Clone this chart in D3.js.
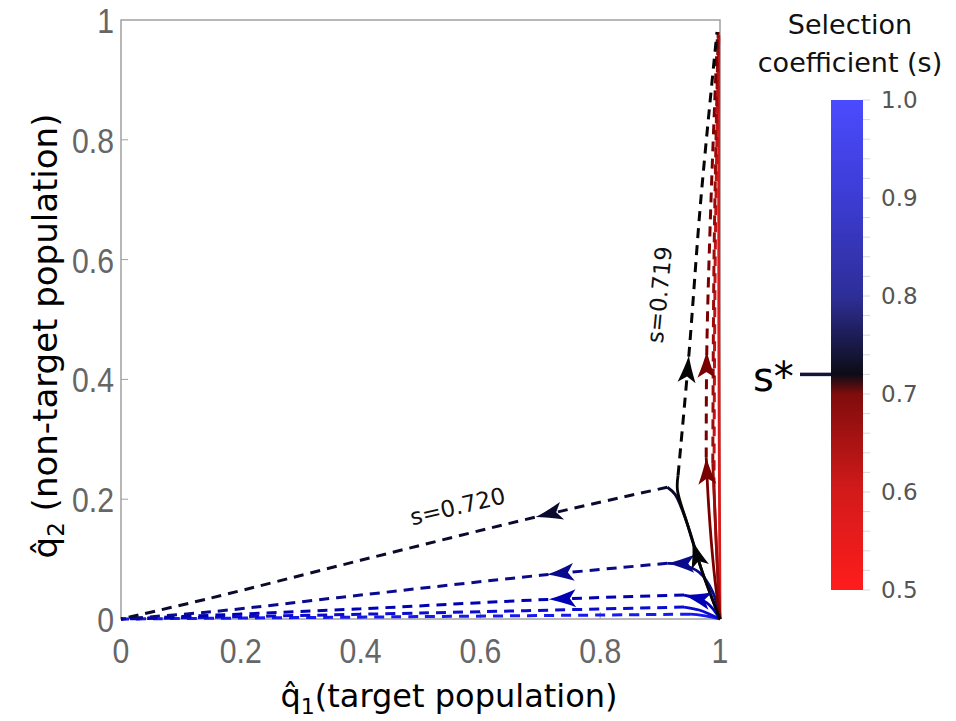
<!DOCTYPE html>
<meta charset="utf-8">
<style>
  body { margin: 0; background: #fff; }
</style>
<div id="container"></div>
<script src="https://cdn.jsdelivr.net/npm/d3@7"></script>
<script>

// selection coefficient of each trajectory
const sValues = [0.50, 0.62, 0.66, 0.70, 0.719, 0.720, 0.77, 0.85, 0.92, 1.00];

// first part of each trajectory (solid), [q1, q2]
const solidParts = [
  [[1, 0], [0.998, 0.5], [0.998, 0.97]],
  [[1, 0], [0.994, 0.12], [0.99, 0.22]],
  [[1, 0], [0.994, 0.12], [0.988, 0.26]],
  [[1, 0], [0.99, 0.08], [0.981, 0.19], [0.977, 0.27]],
  [[1, 0], [0.97, 0.08], [0.945, 0.16], [0.929, 0.215], [0.93, 0.24]],
  [[1, 0], [0.97, 0.08], [0.945, 0.16], [0.925, 0.208], [0.912, 0.22]],
  [[1, 0], [0.988, 0.045], [0.965, 0.078], [0.935, 0.091], [0.912, 0.093]],
  [[1, 0], [0.978, 0.027], [0.94, 0.04]],
  [[1, 0], [0.965, 0.015], [0.94, 0.02]],
  [[1, 0], [0.97, 0.006], [0.95, 0.008]]
];

// later part of each trajectory (dashed)
const dashedParts = [
  [],
  [[0.99, 0.22], [0.992, 0.6], [0.998, 0.98]],
  [[0.988, 0.26], [0.99, 0.6], [0.997, 0.98]],
  [[0.977, 0.27], [0.978, 0.45], [0.985, 0.7], [0.996, 0.98]],
  [[0.93, 0.24], [0.948, 0.44], [0.968, 0.7], [0.995, 0.98]],
  [[0.912, 0.22], [0.7, 0.172], [0.4, 0.098], [0.15, 0.035], [0, 0]],
  [[0.912, 0.093], [0.7, 0.073], [0.4, 0.04], [0.15, 0.012], [0, 0]],
  [[0.94, 0.04], [0.72, 0.033], [0.4, 0.017], [0, 0]],
  [[0.94, 0.02], [0.5, 0.01], [0, 0]],
  [[0.95, 0.008], [0.5, 0.004], [0, 0]]
];

// where the arrow heads sit, fraction of the part length (null = none)
const solidArrow = [null, null, null, 1, 0.55, null, 1, 1, null, null];
const dashedArrow = [null, null, null, 0.25, 0.27, 0.24, 0.22, 0.24, null, null];

const axisTicks = [0, 0.2, 0.4, 0.6, 0.8, 1];
const axisTickLabels = ['0', '0.2', '0.4', '0.6', '0.8', '1'];
const barTicks = [0.5, 0.6, 0.7, 0.8, 0.9, 1.0];
const sStar = 0.72;

const annotations = [
  { text: 's=0.720', q1: 0.565, q2: 0.175, angle: -13.5 },
  { text: 's=0.719', q1: 0.912, q2: 0.54, angle: -84.5 }
];

const width = 956, height = 721;
const sans = "'Liberation Sans', Arial, sans-serif";
const wide = "'DejaVu Sans', Verdana, sans-serif";
const squeeze = 0.84;   // tick numbers are a narrow face

const x = d3.scaleLinear().domain([0, 1]).range([121, 720]);
const y = d3.scaleLinear().domain([0, 1]).range([619, 20]);

// colour of the bar
const barColor = d3.scaleLinear()
  .domain([0.5, 0.6, 0.7, 0.72, 0.8, 0.9, 1.0])
  .range(['#ff1c1c', '#d41a1a', '#800c0c', '#0c0c16', '#2e2e98', '#3c3cd4', '#4b4bff']);

// colour of the trajectories (a bit deeper)
const lineColor = d3.scaleLinear()
  .domain([0.5, 0.62, 0.7, 0.719, 0.72, 0.77, 0.85, 1.0])
  .range(['#dd1a1a', '#c01414', '#7a0000', '#050505', '#0a0a2e', '#0a0a8c', '#0000b4', '#1818f0']);

const svg = d3.create('svg')
  .attr('width', width)
  .attr('height', height)
  .style('font-family', sans);

// frame
svg.append('rect')
  .attr('x', x(0)).attr('y', y(1))
  .attr('width', x(1) - x(0)).attr('height', y(0) - y(1))
  .attr('fill', 'none')
  .attr('stroke', '#a0a0a0')
  .attr('stroke-width', 1.5);

// inner ticks
const tickG = svg.append('g').attr('stroke', '#a0a0a0').attr('stroke-width', 1);
axisTicks.slice(1, -1).forEach(t => {
  tickG.append('line').attr('x1', x(t)).attr('x2', x(t)).attr('y1', y(0)).attr('y2', y(0) - 7);
  tickG.append('line').attr('x1', x(0)).attr('x2', x(0) + 7).attr('y1', y(t)).attr('y2', y(t));
});

// tick labels
svg.append('g').selectAll('text').data(axisTicks).join('text')
  .attr('transform', d => `translate(${x(d)},${y(0) + 44}) scale(${squeeze},1)`)
  .attr('text-anchor', 'middle')
  .attr('fill', '#666')
  .attr('font-size', 36)
  .text((d, i) => axisTickLabels[i]);

svg.append('g').selectAll('text').data(axisTicks).join('text')
  .attr('transform', d => `translate(${x(0) - 7},${y(d) + 13}) scale(${squeeze},1)`)
  .attr('text-anchor', 'end')
  .attr('fill', '#666')
  .attr('font-size', 36)
  .text((d, i) => axisTickLabels[i]);

// axis titles
const xt = svg.append('text')
  .attr('x', 449).attr('y', 707)
  .attr('text-anchor', 'middle')
  .attr('font-family', wide)
  .attr('font-size', 32)
  .attr('fill', '#000');
xt.append('tspan').text('q\u0302');
xt.append('tspan').attr('font-size', 22).attr('dy', 7).text('1');
xt.append('tspan').attr('dy', -7).text('(target population)');

const yt = svg.append('text')
  .attr('transform', 'translate(57,336) rotate(-90)')
  .attr('text-anchor', 'middle')
  .attr('font-family', wide)
  .attr('font-size', 34)
  .attr('fill', '#000');
yt.append('tspan').text('q\u0302');
yt.append('tspan').attr('font-size', 23).attr('dy', 7).text('2');
yt.append('tspan').attr('dy', -7).text(' (non-target population)');

// trajectories
const line = d3.line().x(d => x(d[0])).y(d => y(d[1])).curve(d3.curveCatmullRom.alpha(0.5));
const order = [9, 8, 7, 6, 0, 1, 2, 3, 5, 4];
const trajG = svg.append('g').attr('fill', 'none');
const arrowG = svg.append('g');

function arrowAt(pathNode, frac, color) {
  const L = pathNode.getTotalLength();
  const at = Math.max(2, Math.min(L, L * frac));
  const p = pathNode.getPointAtLength(at);
  const q = pathNode.getPointAtLength(at - 2);
  const ang = Math.atan2(p.y - q.y, p.x - q.x) * 180 / Math.PI;
  arrowG.append('path')
    .attr('d', 'M0,0 Q-12,-3 -27,-9 L-21,0 L-27,9 Q-12,3 0,0 Z')
    .attr('transform', `translate(${p.x},${p.y}) rotate(${ang})`)
    .attr('fill', color);
}

order.forEach(i => {
  const c = lineColor(sValues[i]);
  const sp = trajG.append('path')
    .attr('d', line(solidParts[i]))
    .attr('stroke', c)
    .attr('stroke-width', 2.8);
  if (dashedParts[i].length) {
    const dp = trajG.append('path')
      .attr('d', line(dashedParts[i]))
      .attr('stroke', c)
      .attr('stroke-width', 3)
      .attr('stroke-dasharray', '10,7');
    if (dashedArrow[i] != null) arrowAt(dp.node(), dashedArrow[i], c);
  }
  if (solidArrow[i] != null) arrowAt(sp.node(), solidArrow[i], c);
});

// annotations
svg.append('g').selectAll('text').data(annotations).join('text')
  .attr('transform', d => `translate(${x(d.q1)},${y(d.q2)}) rotate(${d.angle})`)
  .attr('text-anchor', 'middle')
  .attr('font-family', wide)
  .attr('font-size', 23)
  .attr('fill', '#111')
  .text(d => d.text);

// colour bar
const bar = { x: 831, w: 32 };
const sc = d3.scaleLinear().domain([0.5, 1.0]).range([590, 100]);
const defs = svg.append('defs');
const grad = defs.append('linearGradient')
  .attr('id', 'sgrad')
  .attr('x1', 0).attr('y1', 1).attr('x2', 0).attr('y2', 0);
d3.range(0.5, 1.0001, 0.01).forEach(v => {
  grad.append('stop')
    .attr('offset', ((v - 0.5) / 0.5 * 100).toFixed(1) + '%')
    .attr('stop-color', barColor(v));
});
svg.append('rect')
  .attr('x', bar.x).attr('y', sc(1))
  .attr('width', bar.w).attr('height', sc(0.5) - sc(1))
  .attr('fill', 'url(#sgrad)');

svg.append('g').attr('stroke', '#d8d8d8').selectAll('line')
  .data(d3.range(0.5, 1.0001, 0.02)).join('line')
  .attr('x1', bar.x + bar.w).attr('x2', bar.x + bar.w + 7)
  .attr('y1', d => sc(d)).attr('y2', d => sc(d));

svg.append('g').selectAll('text').data(barTicks).join('text')
  .attr('x', bar.x + bar.w + 18)
  .attr('y', d => sc(d) + 8)
  .attr('font-family', wide)
  .attr('font-size', 23)
  .attr('fill', '#555')
  .text(d => d.toFixed(1));

svg.append('line')
  .attr('x1', 800).attr('x2', bar.x)
  .attr('y1', sc(sStar)).attr('y2', sc(sStar))
  .attr('stroke', '#15153a')
  .attr('stroke-width', 3.5);
svg.append('text')
  .attr('x', 753).attr('y', sc(sStar) + 17)
  .attr('font-family', wide)
  .attr('font-size', 40)
  .text('s*');

const title = svg.append('text')
  .attr('text-anchor', 'middle')
  .attr('font-family', wide)
  .attr('font-size', 27)
  .attr('fill', '#111');
title.append('tspan').attr('x', 850).attr('y', 34).text('Selection');
title.append('tspan').attr('x', 850).attr('y', 72).text('coefficient (s)');

container.append(svg.node());

</script>
